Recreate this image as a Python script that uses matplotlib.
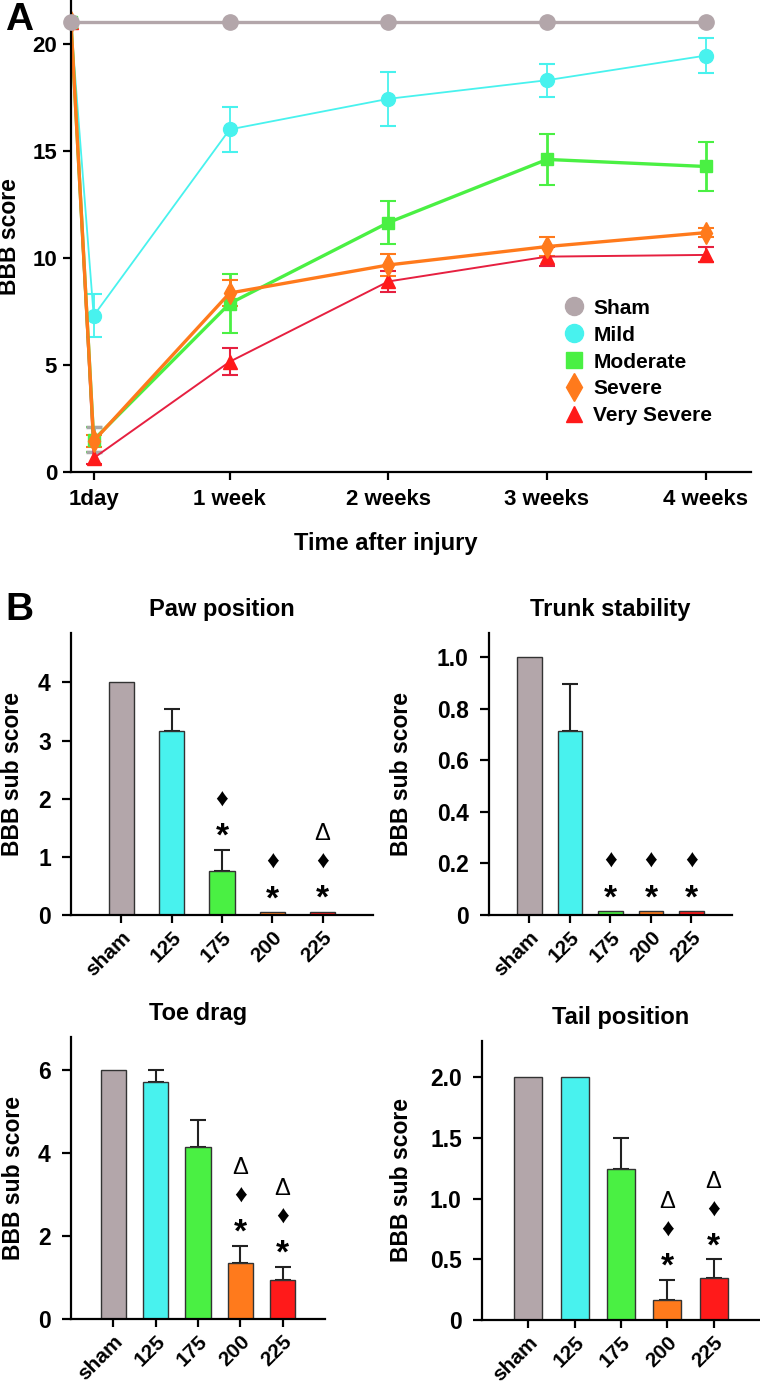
import matplotlib
matplotlib.use('Agg')
import matplotlib.pyplot as plt
import numpy as np

plt.rcParams['font.family'] = ['Liberation Sans', 'DejaVu Sans']
plt.rcParams['font.weight'] = 'bold'
plt.rcParams['axes.linewidth'] = 1.6

# ---- Panel A data: BBB score over time (days after injury) ----
days_sham = [0, 7, 14, 21, 28]
days = [0, 1, 7, 14, 21, 28]
sham = [21, 21, 21, 21, 21]
mild = [21, 7.3, 16.0, 17.43, 18.3, 19.45]
mild_err = [0, 1.0, 1.07, 1.25, 0.77, 0.8]
moderate = [21, 1.5, 7.87, 11.65, 14.6, 14.27]
moderate_err = [0, 0.58, 1.37, 1.0, 1.2, 1.15]
severe = [21, 1.45, 8.36, 9.67, 10.53, 11.18]
severe_err = [0, 0.3, 0.6, 0.5, 0.45, 0.2]
very_severe = [21, 0.65, 5.15, 8.9, 10.06, 10.14]
very_severe_err = [0, 0.28, 0.63, 0.5, 0.45, 0.35]
time_ticks = [1, 7, 14, 21, 28]
time_labels = ['1day', '1 week', '2 weeks', '3 weeks', '4 weeks']
series_names = ['Sham', 'Mild', 'Moderate', 'Severe', 'Very Severe']

# ---- Panel B data: BBB sub scores at 4 weeks ----
groups = ['sham', '125', '175', '200', '225']
paw = [4.0, 3.16, 0.76, 0.05, 0.06]
paw_err = [0, 0.39, 0.36, 0, 0]
paw_marks = ['', '', '*♦', '*♦', '*♦Δ']
trunk = [1.0, 0.716, 0.015, 0.015, 0.015]
trunk_err = [0, 0.18, 0, 0, 0]
trunk_marks = ['', '', '*♦', '*♦', '*♦']
toe = [6.0, 5.72, 4.14, 1.34, 0.94]
toe_err = [0, 0.28, 0.66, 0.43, 0.32]
toe_marks = ['', '', '', '*♦Δ', '*♦Δ']
tail = [2.0, 2.0, 1.247, 0.167, 0.35]
tail_err = [0, 0, 0.253, 0.163, 0.15]
tail_marks = ['', '', '', '*♦Δ', '*♦Δ']

paw_ticks = [0, 1, 2, 3, 4]
paw_ticklabels = ['0', '1', '2', '3', '4']
trunk_ticks = [0, 0.2, 0.4, 0.6, 0.8, 1.0]
trunk_ticklabels = ['0', '0.2', '0.4', '0.6', '0.8', '1.0']
toe_ticks = [0, 2, 4, 6]
toe_ticklabels = ['0', '2', '4', '6']
tail_ticks = [0, 0.5, 1.0, 1.5, 2.0]
tail_ticklabels = ['0', '0.5', '1.0', '1.5', '2.0']

sham_c = '#B3A6AA'
mild_c = '#48F2EE'
mod_c = '#4AF043'
sev_c = '#FF7A1C'
vsev_c = '#FF1A1A'
vsev_line = '#E62040'
bar_colors = [sham_c, mild_c, mod_c, sev_c, vsev_c]

W, H = 760, 1386
fig = plt.figure(figsize=(W / 100, H / 100), dpi=100)


def px_axes(l, t, r, b):
    return fig.add_axes([l / W, 1 - b / H, (r - l) / W, (b - t) / H])


# ================= Panel A =================
axA = px_axes(71, 1, 751, 472)
eb_kw = dict(capsize=5.5, capthick=1.5)
axA.errorbar(days, mild, yerr=mild_err, color=mild_c, lw=1.3, marker='o', ms=10,
             elinewidth=1.3, label='Mild', **eb_kw)
axA.errorbar(days, very_severe, yerr=very_severe_err, color=vsev_line, lw=1.4,
             marker='^', ms=10, mfc=vsev_c, mec=vsev_c, elinewidth=1.5,
             label='Very Severe', **eb_kw)
axA.errorbar(days, moderate, yerr=moderate_err, color=mod_c, lw=2.4, marker='s', ms=9,
             elinewidth=2.0, label='Moderate', **eb_kw)
# the 1-day SEM of the moderate group is drawn in grey in the original
axA.errorbar(days[1], moderate[1], yerr=moderate_err[1], color='#A8A8A8', fmt='none',
             elinewidth=2.0, capsize=5.5, capthick=2.5)
axA.errorbar(days, severe, yerr=severe_err, color=sev_c, lw=2.4, marker='d', ms=11,
             elinewidth=2.0, label='Severe', **eb_kw)
axA.plot(days_sham, sham, color=sham_c, lw=2.4, marker='o', ms=11, label='Sham',
         clip_on=False, zorder=5)

axA.set_xlim(0, 30)
axA.set_ylim(0, 22)
axA.set_xticks(time_ticks)
axA.set_xticklabels(time_labels)
axA.set_yticks([0, 5, 10, 15, 20])
axA.tick_params(length=6, width=1.6, labelsize=16, pad=6)
axA.tick_params(axis='y', pad=4)
axA.spines['top'].set_visible(False)
axA.spines['right'].set_visible(False)
axA.set_ylabel('BBB score', fontsize=16.5, fontweight='bold')
axA.yaxis.set_label_coords(-0.074, 0.5)
axA.set_xlabel('Time after injury', fontsize=17, fontweight='bold')
axA.xaxis.set_label_coords(0.463, -0.127)

# legend: markers only
handles = []
for name, c, m, s in zip(series_names, [sham_c, mild_c, mod_c, sev_c, vsev_c],
                         ['o', 'o', 's', 'd', '^'], [13, 13, 12, 14, 12]):
    h, = axA.plot([], [], ls='none', marker=m, color=c, ms=s)
    handles.append(h)
axA.legend(handles, series_names, loc='upper left', bbox_to_anchor=(0.71, 0.39),
           frameon=False, fontsize=15, handlelength=0.9, handletextpad=0.5,
           labelspacing=0.38, borderpad=0)

fig.text(5 / W, 1 - 20 / H, 'A', fontsize=28, fontweight='bold', va='center', ha='left')
fig.text(5 / W, 1 - 610 / H, 'B', fontsize=28, fontweight='bold', va='center', ha='left')

# ================= Panel B =================
sym_style = {
    '*': dict(fontsize=24, fontweight='bold', dy=-7),
    '♦': dict(fontsize=18, fontweight='normal', dy=0),
    'Δ': dict(fontsize=17, fontweight='normal', dy=0),
}


def bar_panel(box, title, vals, errs, marks, ylim, ticks, ticklabels, width, ylab_x):
    ax = px_axes(*box)
    x = np.arange(len(groups))
    ax.bar(x, vals, width=width, color=bar_colors, edgecolor='#333333', linewidth=1.0,
           zorder=2)
    for xi, v, e in zip(x, vals, errs):
        if e > 0:
            ax.errorbar(xi, v, yerr=[[0], [e]], fmt='none', ecolor='#222222',
                        elinewidth=1.5, capsize=6, capthick=1.5, zorder=1)
    for xi, v, e, m in zip(x, vals, errs, marks):
        for k, s in enumerate(m):
            st = sym_style[s]
            ax.annotate(s, (xi, v + e), xytext=(0, 16 + 20 * k + st['dy']),
                        textcoords='offset points', ha='center', va='center',
                        fontsize=st['fontsize'], fontweight=st['fontweight'],
                        family=['Liberation Sans', 'DejaVu Sans'])
    ax.set_xlim(-1, 5)
    ax.set_ylim(*ylim)
    ax.set_yticks(ticks)
    ax.set_yticklabels(ticklabels)
    ax.set_xticks(x)
    ax.set_xticklabels(groups, rotation=45, ha='right', rotation_mode='anchor')
    ax.tick_params(axis='y', length=6.5, width=1.6, labelsize=16.5, pad=8)
    ax.tick_params(axis='x', length=6, width=1.6, labelsize=15, pad=3)
    ax.spines['top'].set_visible(False)
    ax.spines['right'].set_visible(False)
    ax.set_title(title, fontsize=17, fontweight='bold', pad=12)
    ax.set_ylabel('BBB sub score', fontsize=16.5, fontweight='bold')
    ax.yaxis.set_label_coords(ylab_x, 0.5)
    return ax


bar_panel((71, 633, 373, 915), 'Paw position', paw, paw_err, paw_marks,
          (0, 4.85), paw_ticks, paw_ticklabels, 0.5, -0.155)
bar_panel((489, 633, 732, 915), 'Trunk stability', trunk, trunk_err, trunk_marks,
          (0, 1.095), trunk_ticks, trunk_ticklabels, 0.6, -0.313)
bar_panel((71, 1037, 325, 1319), 'Toe drag', toe, toe_err, toe_marks,
          (0, 6.8), toe_ticks, toe_ticklabels, 0.6, -0.182)
bar_panel((482, 1041, 760, 1320), 'Tail position', tail, tail_err, tail_marks,
          (0, 2.3), tail_ticks, tail_ticklabels, 0.6, -0.248)

fig.savefig('out.png', dpi=100)
